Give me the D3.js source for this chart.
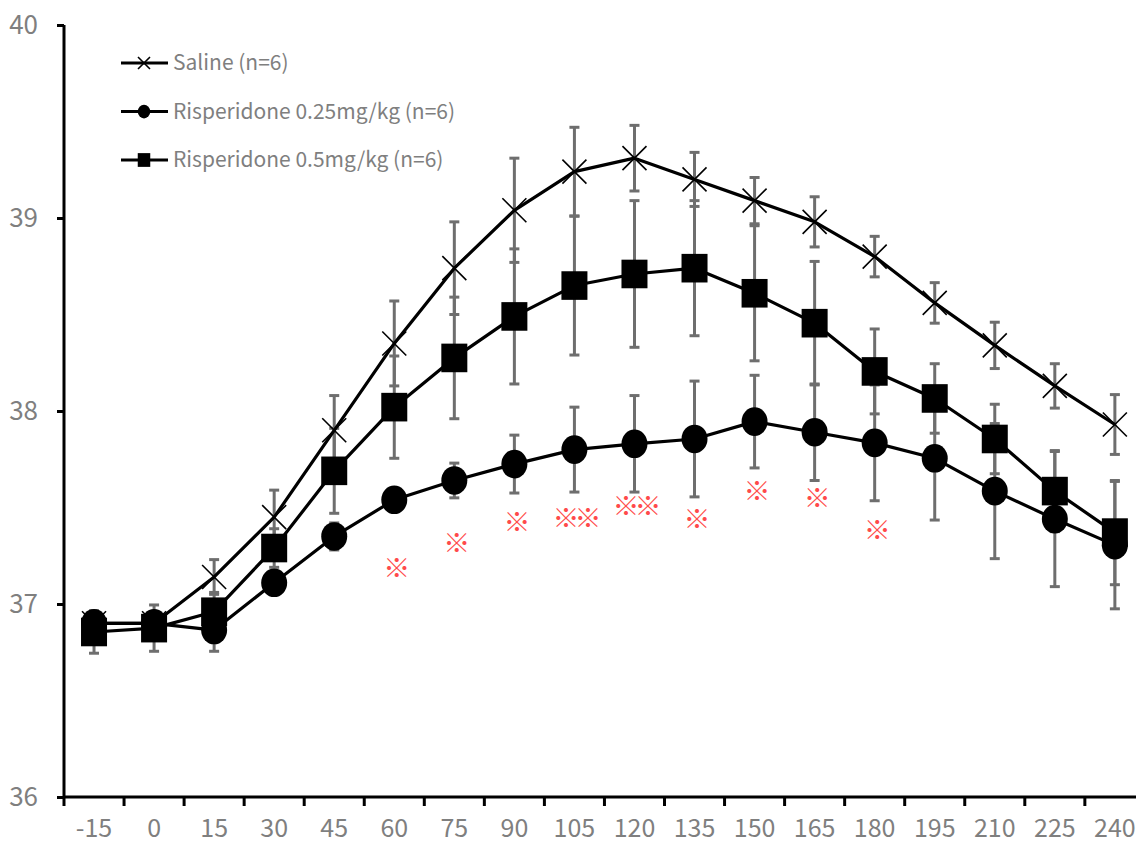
<!DOCTYPE html>
<html>
<head>
<meta charset="utf-8">
<script src="https://cdn.jsdelivr.net/npm/d3@7"></script>
<style>
  body { margin: 0; background: #fff; }
  svg { display: block; }
</style>
</head>
<body>
<div id="chart"></div>
<script>
// Body temperature time course (minutes after dosing)
const times = [-15, 0, 15, 30, 45, 60, 75, 90, 105, 120, 135, 150, 165, 180, 195, 210, 225, 240];

const saline   = [36.90, 36.90, 37.14, 37.45, 37.90, 38.35, 38.74, 39.04, 39.24, 39.31, 39.20, 39.09, 38.98, 38.80, 38.56, 38.34, 38.13, 37.93];
const salineSd = [0.05, 0.06, 0.09, 0.14, 0.18, 0.22, 0.24, 0.27, 0.23, 0.17, 0.14, 0.12, 0.13, 0.105, 0.105, 0.12, 0.115, 0.155];

const ris025   = [36.90, 36.90, 36.865, 37.11, 37.35, 37.54, 37.64, 37.725, 37.80, 37.83, 37.855, 37.945, 37.89, 37.835, 37.755, 37.585, 37.44, 37.305];
const ris025Sd = [0.06, 0.06, 0.11, 0.05, 0.07, 0.05, 0.09, 0.15, 0.22, 0.25, 0.30, 0.24, 0.25, 0.30, 0.32, 0.35, 0.35, 0.33];

const ris05    = [36.855, 36.875, 36.96, 37.29, 37.69, 38.02, 38.275, 38.49, 38.65, 38.71, 38.74, 38.61, 38.455, 38.205, 38.065, 37.855, 37.585, 37.37];
const ris05Sd  = [0.11, 0.12, 0.10, 0.10, 0.22, 0.265, 0.315, 0.35, 0.36, 0.38, 0.35, 0.35, 0.32, 0.22, 0.18, 0.18, 0.21, 0.27];

// significance marks (time, label, height in °C)
const sigTimes  = [60, 75, 90, 105, 120, 135, 150, 165, 180];
const sigLabels = ['※', '※', '※', '※※', '※※', '※', '※', '※', '※'];
const sigValues = [37.19, 37.315, 37.425, 37.445, 37.51, 37.44, 37.585, 37.55, 37.385];

const yTicks = [36, 37, 38, 39, 40];

const seriesNames = ['Saline (n=6)', 'Risperidone 0.25mg/kg (n=6)', 'Risperidone 0.5mg/kg (n=6)'];

const series = [
  { name: seriesNames[0], values: saline, sd: salineSd, marker: 'cross' },
  { name: seriesNames[1], values: ris025, sd: ris025Sd, marker: 'circle' },
  { name: seriesNames[2], values: ris05, sd: ris05Sd, marker: 'square' }
];

const W = 1136, H = 845;
const plotLeft = 64, plotBottom = 797, plotTop = 25;
const band = 60.05;
const font = '"Noto Sans CJK JP", "Noto Sans", sans-serif';
const grey = '#7f7f7f';
const barGrey = '#6e6e6e';

const svg = d3.select('#chart').append('svg')
  .attr('width', W)
  .attr('height', H);

// Scales
const x = d3.scaleBand()
  .domain(times)
  .range([plotLeft, plotLeft + band * times.length])
  .padding(0);

const y = d3.scaleLinear()
  .domain([36, 40])
  .range([plotBottom, plotTop]);

const cx = t => x(t) + x.bandwidth() / 2;

// Error bars
const errG = svg.append('g');
series.forEach(s => {
  const rows = times.map((t, i) => ({ t, v: s.values[i], sd: s.sd[i] }));
  const eb = errG.append('g').selectAll(null).data(rows).join('g')
    .attr('stroke', barGrey)
    .attr('stroke-width', 3);
  eb.append('line')
    .attr('x1', d => cx(d.t)).attr('x2', d => cx(d.t))
    .attr('y1', d => y(d.v + d.sd)).attr('y2', d => y(d.v - d.sd));
  eb.append('line')
    .attr('x1', d => cx(d.t) - 5).attr('x2', d => cx(d.t) + 5)
    .attr('y1', d => y(d.v + d.sd)).attr('y2', d => y(d.v + d.sd));
  eb.append('line')
    .attr('x1', d => cx(d.t) - 5).attr('x2', d => cx(d.t) + 5)
    .attr('y1', d => y(d.v - d.sd)).attr('y2', d => y(d.v - d.sd));
});

// Marker drawing
function drawMarker(sel, type, size) {
  if (type === 'circle') {
    sel.append('ellipse')
      .attr('rx', size / 2).attr('ry', size / 2 * 1.1)
      .attr('fill', '#000');
  } else if (type === 'square') {
    sel.append('rect')
      .attr('x', -size / 2).attr('y', -size / 2 * 1.1)
      .attr('width', size).attr('height', size * 1.1)
      .attr('fill', '#000');
  } else {
    const h = size / 2;
    sel.append('path')
      .attr('d', `M${-h},${-h}L${h},${h}M${-h},${h}L${h},${-h}`)
      .attr('stroke', '#000')
      .attr('stroke-width', 1.6)
      .attr('fill', 'none');
  }
}

const line = d3.line()
  .x(d => cx(d.t))
  .y(d => y(d.v));

series.forEach(s => {
  const rows = times.map((t, i) => ({ t, v: s.values[i] }));
  svg.append('path')
    .datum(rows)
    .attr('d', line)
    .attr('fill', 'none')
    .attr('stroke', '#000')
    .attr('stroke-width', 3.2)
    .attr('stroke-linejoin', 'round');
  svg.append('g').selectAll(null).data(rows).join('g')
    .attr('transform', d => `translate(${cx(d.t)},${y(d.v)})`)
    .each(function() { drawMarker(d3.select(this), s.marker, s.marker === 'cross' ? 24 : 26); });
});

// Significance marks
svg.append('g').selectAll(null).data(sigTimes).join('text')
  .attr('x', t => cx(t))
  .attr('y', (t, i) => y(sigValues[i]))
  .attr('dy', '0.38em')
  .attr('text-anchor', 'middle')
  .attr('font-family', '"Noto Sans CJK JP"')
  .attr('font-size', 27)
  .attr('letter-spacing', -5)
  .attr('fill', '#ff4a4a')
  .text((t, i) => sigLabels[i]);

// Y axis
const yAxis = svg.append('g')
  .attr('transform', `translate(${plotLeft},0)`)
  .call(d3.axisLeft(y).tickValues(yTicks).tickSize(7).tickPadding(19).tickFormat(d3.format('d')));
yAxis.select('.domain').attr('stroke', '#000').attr('stroke-width', 3)
  .attr('d', `M0,${plotTop}V${plotBottom}`);
yAxis.selectAll('.tick line').attr('stroke', '#000').attr('stroke-width', 3);
yAxis.selectAll('text')
  .attr('font-family', font)
  .attr('font-size', 26)
  .attr('fill', grey);

// X axis: labels at category centres, ticks between categories
const xAxis = svg.append('g')
  .attr('transform', `translate(0,${plotBottom})`)
  .call(d3.axisBottom(x).tickSize(0).tickPadding(22));
xAxis.select('.domain').attr('stroke', '#000').attr('stroke-width', 3)
  .attr('d', `M${plotLeft},0H${W}`);
xAxis.selectAll('text')
  .attr('font-family', font)
  .attr('font-size', 25)
  .attr('fill', grey);
xAxis.append('g').selectAll('line').data(times.concat(['end'])).join('line')
  .attr('x1', t => t === 'end' ? x.range()[1] : x(t))
  .attr('x2', t => t === 'end' ? x.range()[1] : x(t))
  .attr('y1', 0).attr('y2', 9)
  .attr('stroke', '#000').attr('stroke-width', 3);

// Legend
const legend = svg.append('g').attr('transform', 'translate(121,63)');
series.forEach((s, i) => {
  const row = legend.append('g').attr('transform', `translate(0,${i * 48.5})`);
  row.append('line')
    .attr('x1', 0).attr('x2', 47).attr('y1', 0).attr('y2', 0)
    .attr('stroke', '#000').attr('stroke-width', 3);
  const m = row.append('g').attr('transform', 'translate(23,0)');
  drawMarker(m, s.marker, s.marker === 'cross' ? 12 : 12.5);
  row.append('text')
    .attr('x', 52)
    .attr('dy', '0.35em')
    .attr('font-family', font)
    .attr('font-size', 21)
    .attr('fill', grey)
    .text(s.name);
});
</script>
</body>
</html>
